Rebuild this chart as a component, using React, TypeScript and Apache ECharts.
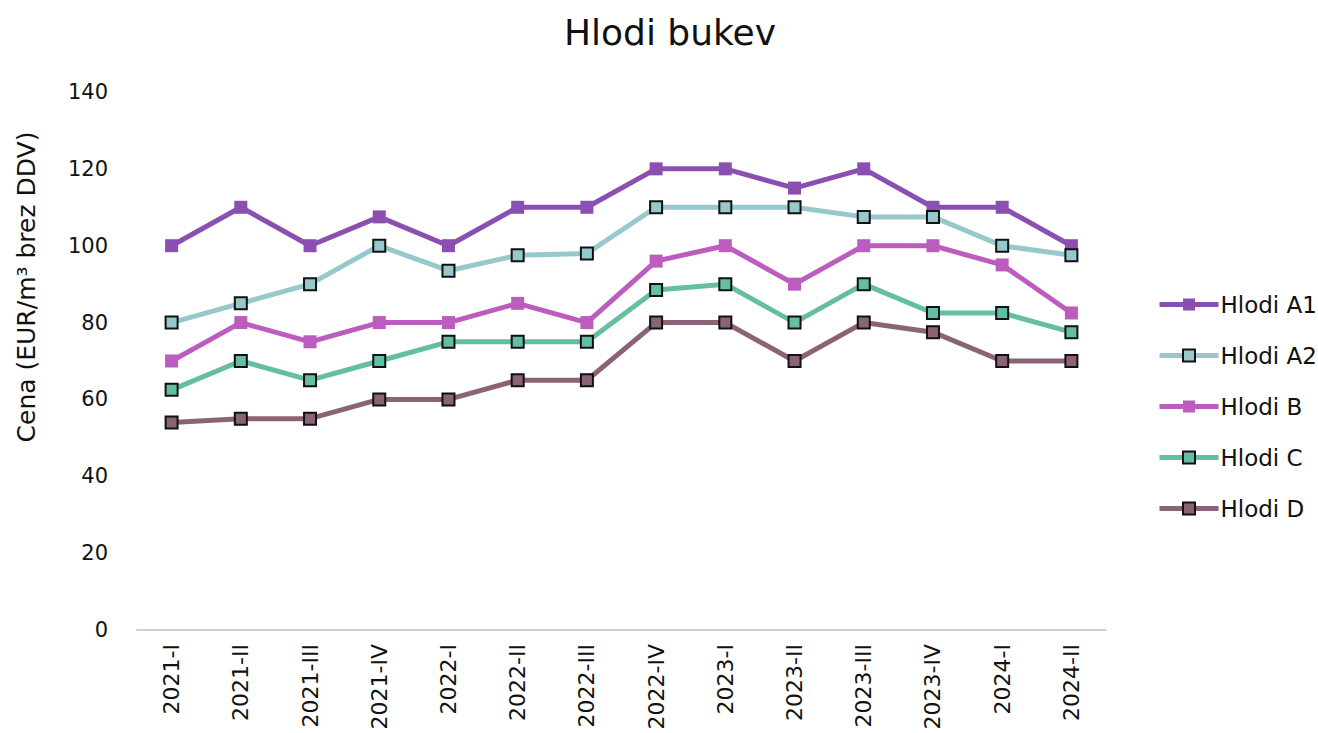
import React, { useEffect, useRef } from "react";
import * as echarts from "echarts";

const categories = ["2021-I", "2021-II", "2021-III", "2021-IV", "2022-I", "2022-II", "2022-III", "2022-IV", "2023-I", "2023-II", "2023-III", "2023-IV", "2024-I", "2024-II"];
const hlodiA1 = [100, 110, 100, 107.5, 100, 110, 110, 120, 120, 115, 120, 110, 110, 100];
const hlodiA2 = [80, 85, 90, 100, 93.5, 97.5, 98, 110, 110, 110, 107.5, 107.5, 100, 97.5];
const hlodiB = [70, 80, 75, 80, 80, 85, 80, 96, 100, 90, 100, 100, 95, 82.5];
const hlodiC = [62.5, 70, 65, 70, 75, 75, 75, 88.5, 90, 80, 90, 82.5, 82.5, 77.5];
const hlodiD = [54, 55, 55, 60, 60, 65, 65, 80, 80, 70, 80, 77.5, 70, 70];
const yTicks = [0, 20, 40, 60, 80, 100, 120, 140];

const FONT = "DejaVu Sans, sans-serif";

export default function App() {
  const ref = useRef<HTMLDivElement>(null);
  useEffect(() => {
    if (!ref.current) return;
    const chart = echarts.init(ref.current, undefined, { renderer: "svg" });
    const mk = (name: string, data: number[], color: string, bordered: boolean) => ({
      name,
      type: "line",
      data,
      symbol: "rect",
      symbolSize: bordered ? 12 : 13,
      lineStyle: { color, width: 5 },
      itemStyle: bordered ? { color, borderColor: "#111", borderWidth: 2 } : { color, borderWidth: 0 },
      emphasis: { disabled: true },
    });
    chart.setOption({
      animation: false,
      textStyle: { fontFamily: FONT },
      title: {
        text: "Hlodi bukev",
        left: 665,
        top: 9,
        textAlign: "center",
        textStyle: { fontSize: 36, fontWeight: "normal", color: "#111", fontFamily: FONT },
      },
      grid: { left: 137, right: 212, top: 92, bottom: 103, containLabel: false },
      xAxis: {
        type: "category",
        data: categories,
        boundaryGap: true,
        axisLine: { lineStyle: { color: "#d0d0d0", width: 2 } },
        axisTick: { show: false },
        axisLabel: { rotate: 90, fontSize: 22, color: "#111", margin: 14, fontFamily: FONT, interval: 0 },
      },
      yAxis: {
        type: "value",
        min: yTicks[0],
        max: yTicks[yTicks.length - 1],
        interval: 20,
        splitLine: { show: false },
        axisLine: { show: false },
        axisTick: { show: false },
        axisLabel: { fontSize: 21, color: "#111", margin: 29, fontFamily: FONT },
      },
      legend: {
        orient: "vertical",
        left: 1152,
        top: 288,
        itemWidth: 59,
        itemHeight: 15,
        itemGap: 28,
        lineStyle: { width: 5 },
        textStyle: { fontSize: 23, color: "#111", fontFamily: FONT, padding: [0, 0, 0, -3] },
        data: ["Hlodi A1", "Hlodi A2", "Hlodi B", "Hlodi C", "Hlodi D"],
      },
      graphic: [
        {
          type: "text",
          x: 26,
          y: 287,
          rotation: Math.PI / 2,
          style: {
            text: "Cena (EUR/m³ brez DDV)",
            fontSize: 25,
            fill: "#111",
            fontFamily: FONT,
            align: "center",
            verticalAlign: "middle",
          },
        },
      ],
      series: [
        mk("Hlodi A1", hlodiA1, "#8a4fb0", false),
        mk("Hlodi A2", hlodiA2, "#97c9cc", true),
        mk("Hlodi B", hlodiB, "#bd5cbf", false),
        mk("Hlodi C", hlodiC, "#63bea4", true),
        mk("Hlodi D", hlodiD, "#8a6476", true),
      ],
    });
    return () => chart.dispose();
  }, []);
  return <div ref={ref} style={{ position: "absolute", left: 0, top: 0, width: 1318, height: 733 }} />;
}
